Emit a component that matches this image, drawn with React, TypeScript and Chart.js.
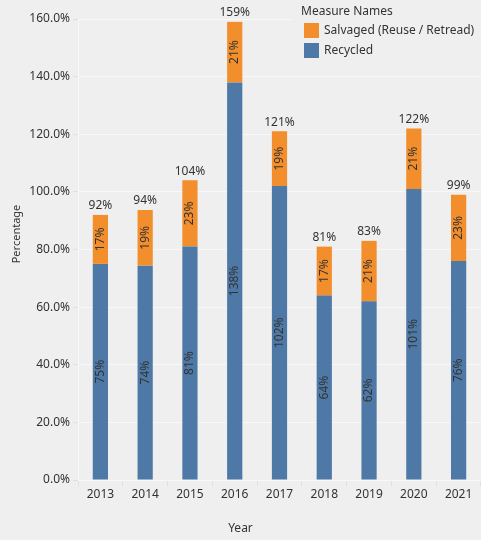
import React, { useEffect, useRef } from "react";
import { Chart, registerables } from "chart.js";

Chart.register(...registerables);

const years = ["2013", "2014", "2015", "2016", "2017", "2018", "2019", "2020", "2021"];
const recycled = [75, 74.4, 81, 138, 102, 64, 62, 101, 76];
const salvaged = [17, 19.3, 23, 21, 19, 17, 21, 21, 23];
const yTicks = [0, 20, 40, 60, 80, 100, 120, 140, 160];
const seriesNames = ["Salvaged (Reuse / Retread)", "Recycled"];
const legendTitle = "Measure Names";
const xTitle = "Year";
const yTitle = "Percentage";

const BLUE = "#4e79a7";
const ORANGE = "#f28e2b";
const BG = "#efefef";
const TEXT = "#333333";
const GRID = "#f8f8f8";
const FONT = "'Noto Sans', sans-serif";

const labelsPlugin = {
  id: "customLabels",
  afterDatasetsDraw(chart: any) {
    const ctx = chart.ctx;
    ctx.save();
    ctx.fillStyle = TEXT;
    ctx.font = `12px ${FONT}`;
    chart.data.datasets.forEach((ds: any, di: number) => {
      const meta = chart.getDatasetMeta(di);
      meta.data.forEach((el: any, i: number) => {
        const v = ds.data[i];
        const cy = (el.y + el.base) / 2;
        ctx.save();
        ctx.translate(el.x, cy);
        ctx.rotate(-Math.PI / 2);
        ctx.textAlign = "center";
        ctx.textBaseline = "middle";
        ctx.fillText(Math.round(v) + "%", 0, 0);
        ctx.restore();
      });
    });
    const top = chart.getDatasetMeta(1);
    top.data.forEach((el: any, i: number) => {
      const total = recycled[i] + salvaged[i];
      ctx.textAlign = "center";
      ctx.textBaseline = "bottom";
      ctx.fillText(Math.round(total) + "%", el.x, el.y - 3);
    });
    ctx.restore();
  },
  afterDraw(chart: any) {
    const ctx = chart.ctx;
    ctx.save();
    ctx.fillStyle = TEXT;
    ctx.font = `12px ${FONT}`;
    ctx.textAlign = "center";
    ctx.textBaseline = "middle";
    ctx.fillText(xTitle, chart.width / 2, 529);
    ctx.save();
    ctx.font = `11px ${FONT}`;
    ctx.translate(17, 234);
    ctx.rotate(-Math.PI / 2);
    ctx.fillText(yTitle, 0, 0);
    ctx.restore();
    // legend
    ctx.fillStyle = BG;
    ctx.fillRect(292, 0, chart.width - 292, 66);
    ctx.fillStyle = TEXT;
    ctx.textAlign = "left";
    ctx.fillText(legendTitle, 301, 12);
    const colors = [ORANGE, BLUE];
    seriesNames.forEach((n, i) => {
      const y = 23 + i * 20;
      ctx.fillStyle = colors[i];
      ctx.fillRect(304, y, 15, 15);
      ctx.fillStyle = TEXT;
      ctx.fillText(n, 324, y + 8);
    });
    ctx.restore();
  },
};

export default function App() {
  const ref = useRef<HTMLCanvasElement>(null);
  useEffect(() => {
    if (!ref.current) return;
    const chart = new Chart(ref.current, {
      type: "bar",
      data: {
        labels: years,
        datasets: [
          { label: seriesNames[1], data: recycled, backgroundColor: BLUE, stack: "s" },
          { label: seriesNames[0], data: salvaged, backgroundColor: ORANGE, stack: "s" },
        ],
      },
      options: {
        responsive: false,
        animation: false,
        layout: { padding: { top: 19, right: 0, left: 0, bottom: 0 } },
        plugins: { legend: { display: false }, tooltip: { enabled: false } },
        datasets: { bar: { barPercentage: 0.34, categoryPercentage: 1 } },
        scales: {
          x: {
            stacked: true,
            afterFit: (s: any) => { s.height = 60; },
            grid: {
              offset: true,
              drawOnChartArea: false,
              drawTicks: true,
              tickLength: 6,
              color: "#e0e0e0",
            },
            border: { color: GRID },
            ticks: { color: TEXT, font: { family: FONT, size: 12 }, padding: 1, maxRotation: 0 },
          },
          y: {
            stacked: true,
            min: 0,
            max: 160,
            afterFit: (s: any) => { s.width = 78; },
            afterBuildTicks: (s: any) => { s.ticks = yTicks.map((v) => ({ value: v })); },
            grid: { color: GRID, tickLength: 5, tickColor: "#e0e0e0" },
            border: { color: GRID },
            ticks: {
              color: TEXT,
              font: { family: FONT, size: 12 },
              padding: 3,
              callback: (v: any) => Number(v).toFixed(1) + "%",
            },
          },
        },
      },
      plugins: [labelsPlugin],
    });
    return () => chart.destroy();
  }, []);
  return (
    <div style={{ position: "fixed", left: 0, top: 0, width: 481, height: 540, background: BG }}>
      <canvas ref={ref} width={481} height={540} style={{ display: "block" }} />
    </div>
  );
}
